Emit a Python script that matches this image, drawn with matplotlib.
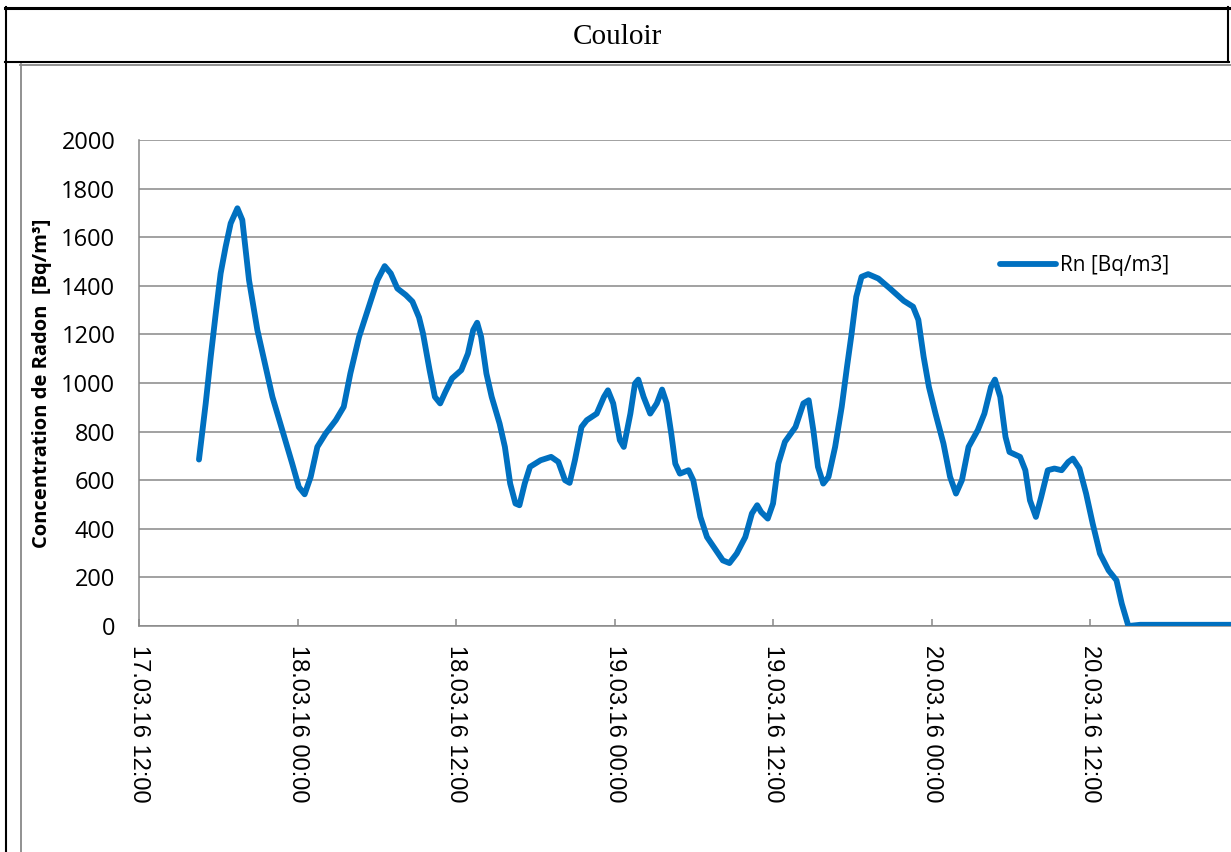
import numpy as np
import pandas as pd
import matplotlib
matplotlib.use("Agg")
from matplotlib import pyplot as plt
import matplotlib.dates as mdates

# hours after 17.03.16 12:00 and radon concentration [Bq/m3]
hours = [4.54, 5.05, 5.43, 5.81, 6.18, 6.56, 6.94, 7.45, 7.82, 8.33, 8.96, 9.59,
         10.1, 10.85, 11.6, 12.1, 12.54, 13.0, 13.5, 14.13, 14.9, 15.5, 16.0, 16.66,
         17.4, 18.05, 18.6, 19.06, 19.56, 20.2, 20.7, 21.2, 21.5, 22.0, 22.4, 22.8,
         23.2, 23.7, 24.4, 24.9, 25.3, 25.6, 25.9, 26.3, 26.7, 27.3, 27.7, 28.1,
         28.5, 28.8, 29.2, 29.6, 30.4, 31.2, 31.75, 32.25, 32.6, 33.0, 33.5, 33.9,
         34.65, 35.2, 35.5, 35.9, 36.4, 36.7, 37.2, 37.55, 37.8, 38.2, 38.7, 39.2,
         39.6, 39.95, 40.3, 40.6, 40.95, 41.6, 41.96, 42.5, 43.0, 43.6, 44.2, 44.7,
         45.25, 45.9, 46.4, 46.8, 47.1, 47.6, 48.0, 48.4, 48.9, 49.7, 50.3, 50.7,
         51.05, 51.4, 51.8, 52.2, 52.7, 53.2, 53.6, 53.95, 54.3, 54.7, 55.2, 55.97,
         56.85, 57.9, 58.6, 59.0, 59.4, 59.8, 60.3, 60.9, 61.4, 61.85, 62.3, 62.8,
         63.5, 64.0, 64.5, 64.8, 65.2, 65.6, 65.9, 66.7, 67.1, 67.45, 67.9, 68.3,
         68.8, 69.3, 69.85, 70.35, 70.7, 71.2, 71.7, 72.2, 72.75, 73.4, 74.0, 74.4,
         74.9, 75.8, 84.0]
radon = [685, 916, 1108, 1286, 1451, 1561, 1657, 1719, 1671, 1423, 1218, 1067,
         943, 806, 668, 572, 542, 614, 737, 792, 847, 902, 1039, 1190,
         1314, 1423, 1481, 1451, 1389, 1362, 1335, 1270, 1204, 1053, 943, 916,
         964, 1019, 1053, 1121, 1218, 1248, 1190, 1039, 943, 833, 737, 586,
         504, 497, 586, 655, 682, 696, 675, 600, 589, 682, 819, 847,
         874, 943, 970, 916, 765, 737, 874, 998, 1014, 943, 874, 916,
         973, 916, 790, 668, 627, 641, 600, 449, 366, 318, 270, 259,
         298, 366, 463, 497, 469, 442, 504, 668, 758, 819, 916, 929,
         806, 655, 586, 614, 737, 902, 1067, 1204, 1355, 1437, 1448, 1430,
         1389, 1338, 1314, 1260, 1108, 984, 874, 751, 614, 545, 600, 737,
         806, 874, 984, 1014, 943, 778, 716, 696, 641, 517, 449, 531,
         641, 648, 641, 675, 689, 648, 545, 421, 298, 229, 188, 92,
         0, 5, 5]

start = pd.Timestamp("2016-03-17 12:00")
end = start + pd.Timedelta(hours=82.67)
times = (start + pd.to_timedelta(hours, unit="h")).to_numpy()

title = "Couloir"
ylabel = "Concentration de Radon  [Bq/m\u00b3]"
series_name = "Rn [Bq/m3]"

W, H = 1231, 852
fig = plt.figure(figsize=(W / 100, H / 100), dpi=100)

# table frame around the chart (pixel coords)
frame = fig.add_axes([0, 0, 1, 1])
frame.set_xlim(0, W)
frame.set_ylim(H, 0)
frame.set_axis_off()
gray = "#888888"
frame.plot([5, 1229], [8, 8], color="black", lw=2.2)
frame.plot([5, 1229], [62, 62], color="black", lw=1.5)
frame.plot([6, 6], [7, H], color="black", lw=1.5)
frame.plot([1228, 1228], [7, 62], color="black", lw=1.5)
frame.plot([20, W], [64.5, 64.5], color=gray, lw=1.3)
frame.plot([20.5, 20.5], [64, H], color=gray, lw=1.3)
frame.text(617, 37, title, ha="center", va="center",
           family="Liberation Serif", fontsize=21)

ax = fig.add_axes([139 / W, (H - 626) / H, (W - 139) / W, 486 / H])
ax.plot(times, radon, color="#0070C0", lw=4.2, solid_capstyle="round",
        solid_joinstyle="round", label=series_name, zorder=3)

ax.set_ylim(0, 2000)
ax.set_yticks(np.arange(0, 2001, 200))
ax.set_xlim(start, end)
ax.xaxis.set_major_locator(mdates.HourLocator(byhour=[0, 12]))
ax.xaxis.set_major_formatter(mdates.DateFormatter("%d.%m.%y %H:%M"))

ax.grid(axis="y", color=gray, lw=1.1)
ax.set_axisbelow(True)
for side in ["top", "right"]:
    ax.spines[side].set_visible(False)
for side in ["left", "bottom"]:
    ax.spines[side].set_color(gray)
    ax.spines[side].set_linewidth(1.1)

ax.tick_params(axis="y", length=0, pad=17, labelsize=17)
ax.tick_params(axis="x", direction="in", length=5, width=1.1, color=gray,
               pad=13.5, labelsize=17)
for lab in ax.get_yticklabels():
    lab.set_family("Open Sans")
for lab in ax.get_xticklabels():
    lab.set_family("Liberation Sans")
    lab.set_rotation(270)

ax.set_ylabel(ylabel, family="Open Sans", fontweight="bold", fontsize=14.5)
ax.yaxis.set_label_coords(-0.08, 0.5)

ax.legend(loc="center left", bbox_to_anchor=(0.7885, 0.7414), frameon=False,
          borderpad=0, borderaxespad=0, handlelength=2.7, handletextpad=0.2,
          prop={"family": "Open Sans", "size": 15})

fig.savefig("out.png", dpi=100)
